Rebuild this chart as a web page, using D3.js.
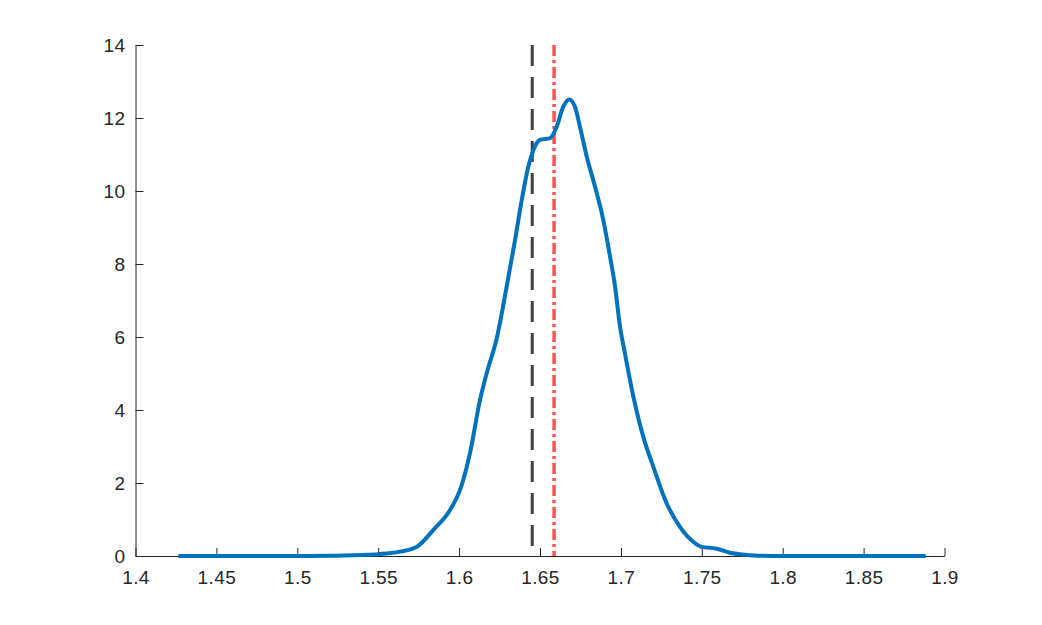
<!DOCTYPE html>
<html>
<head>
<meta charset="utf-8">
<script src="https://cdn.jsdelivr.net/npm/d3@7"></script>
<style>
  html, body { margin: 0; padding: 0; background: #fff; }
  svg { display: block; }
  .tick text { font-family: "Liberation Sans", Arial, Helvetica, sans-serif; font-size: 19px; letter-spacing: 0.4px; fill: #262626; }
</style>
</head>
<body>
<script>
// Density curve (x values and density values)
const densityX = [1.4265, 1.45, 1.5, 1.52, 1.54, 1.55, 1.5635, 1.5738, 1.584, 1.5944, 1.6006, 1.6067, 1.6129, 1.617, 1.6232, 1.6294, 1.6346, 1.6387, 1.6428, 1.6459, 1.65, 1.6562, 1.6603, 1.6644, 1.6681, 1.6716, 1.6747, 1.6789, 1.684, 1.6891, 1.6933, 1.6964, 1.6994, 1.7025, 1.7077, 1.7138, 1.72, 1.7283, 1.7365, 1.7447, 1.7499, 1.7592, 1.7674, 1.775, 1.785, 1.8, 1.85, 1.8884];
const densityY = [0, 0, 0, 0.005, 0.03, 0.05, 0.12, 0.25, 0.71, 1.26, 1.81, 2.81, 4.27, 5.0, 5.95, 7.38, 8.66, 9.75, 10.67, 11.12, 11.4, 11.45, 11.76, 12.31, 12.51, 12.31, 11.76, 10.94, 10.12, 9.21, 8.2, 7.38, 6.3, 5.55, 4.37, 3.27, 2.45, 1.44, 0.8, 0.39, 0.25, 0.2, 0.09, 0.04, 0.01, 0, 0, 0];
// Reference vertical lines
const blackLineX = 1.6452;
const redLineX = 1.6587;
// Axis ticks
const xTicks = [1.4, 1.45, 1.5, 1.55, 1.6, 1.65, 1.7, 1.75, 1.8, 1.85, 1.9];
const yTicks = [0, 2, 4, 6, 8, 10, 12, 14];

const W = 1042, H = 625;
const m = { left: 135.5, right: 944.5, top: 45, bottom: 556 };

const svg = d3.select("body").append("svg").attr("width", W).attr("height", H);

const x = d3.scaleLinear().domain([1.4, 1.9]).range([m.left, m.right]);
const y = d3.scaleLinear().domain([0, 14]).range([m.bottom, m.top]);

const fmt = d => String(+d.toFixed(2));

const gx = svg.append("g").attr("transform", `translate(0,${m.bottom})`)
  .call(d3.axisBottom(x).tickValues(xTicks).tickFormat(fmt).tickSizeInner(-8).tickSizeOuter(0).tickPadding(15));
const gy = svg.append("g").attr("transform", `translate(${m.left},0)`)
  .call(d3.axisLeft(y).tickValues(yTicks).tickFormat(fmt).tickSizeInner(-8).tickSizeOuter(0).tickPadding(10));
[gx, gy].forEach(g => {
  g.select(".domain").attr("stroke", "#262626").attr("stroke-width", 1);
  g.selectAll(".tick line").attr("stroke", "#262626").attr("stroke-width", 1);
});
gy.selectAll(".tick text").attr("dy", "0.35em");

// Black dashed line
svg.append("line")
  .attr("x1", x(blackLineX)).attr("x2", x(blackLineX))
  .attr("y1", y(14)).attr("y2", y(0))
  .attr("stroke", "#404040").attr("stroke-width", 3)
  .attr("stroke-dasharray", "21,11");

// Red dash-dot line
svg.append("line")
  .attr("x1", x(redLineX)).attr("x2", x(redLineX))
  .attr("y1", y(14)).attr("y2", y(0))
  .attr("stroke", "#ff4040").attr("stroke-opacity", 0.9).attr("stroke-width", 3.5)
  .attr("stroke-dasharray", "11,4,3,4");

// Density curve
const pts = densityX.map((d, i) => [d, densityY[i]]);
const line = d3.line().x(d => x(d[0])).y(d => y(d[1])).curve(d3.curveMonotoneX);
svg.append("path").datum(pts)
  .attr("d", line)
  .attr("fill", "none")
  .attr("stroke", "#0072BD")
  .attr("stroke-width", 4)
  .attr("stroke-linejoin", "round");
</script>
</body>
</html>
